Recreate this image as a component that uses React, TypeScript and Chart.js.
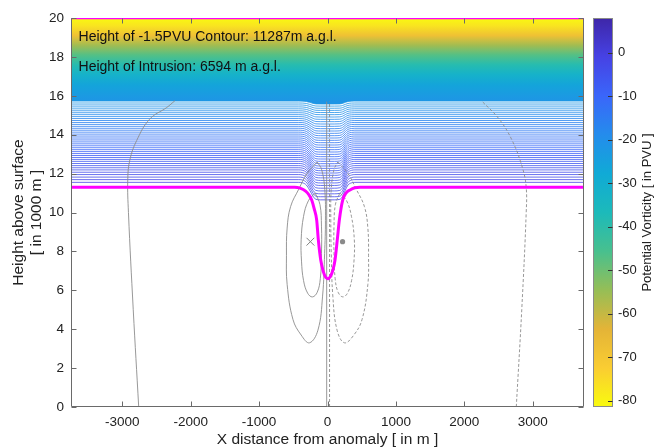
import React, { useEffect, useRef } from 'react';
import { Chart, registerables } from 'chart.js';

Chart.register(...registerables);

const FONT = '"Liberation Sans", Arial, Helvetica, sans-serif';
const AXIS = '#6a6a6a';
const TEXT = '#222222';

// ---------- axes ----------
const xRange = [-3750, 3750];
const yRange = [0, 20];
const xTicks = [-3000, -2000, -1000, 0, 1000, 2000, 3000];
const yTicks = [0, 2, 4, 6, 8, 10, 12, 14, 16, 18, 20];
const cbRange = [-81.4, 8];
const cbTicks = [0, -10, -20, -30, -40, -50, -60, -70, -80];

const xTitle = 'X distance from anomaly [ in m ]';
const yTitle = ['Height above surface', '[ in 1000 m ]'];
const cbTitle = 'Potential Vorticity [ in PVU ]';
const annotations = ['Height of -1.5PVU Contour: 11287m a.g.l.', 'Height of Intrusion: 6594 m a.g.l.'];

// parula colour map (top of colour bar -> bottom)
const parulaStops = [
  [62, 38, 168],
  [70, 66, 228],
  [58, 102, 250],
  [36, 140, 236],
  [16, 170, 214],
  [28, 186, 186],
  [72, 192, 142],
  [150, 190, 86],
  [228, 180, 55],
  [250, 205, 50],
  [249, 251, 14],
];

// ---------- PV contour lines (far-field height in km, level in PVU, depression over anomaly in km) ----------
const lineHeights = [11.55, 11.69, 11.82, 11.95, 12.07, 12.19, 12.30, 12.41, 12.52, 12.63, 12.73, 12.83, 12.93, 13.03,
  13.13, 13.23, 13.33, 13.43, 13.53, 13.63, 13.73, 13.83, 13.93, 14.03, 14.13, 14.23, 14.33, 14.43, 14.53, 14.63,
  14.73, 14.83, 14.93, 15.03, 15.13, 15.23, 15.33, 15.43, 15.53, 15.63, 15.73];
const lineLevels = [-2, -2.5, -3, -3.5, -4, -4.5, -5, -5.5, -6, -6.5, -7, -7.5, -8, -8.5, -9, -9.5, -10, -10.5, -11,
  -11.5, -12, -12.5, -13, -13.5, -14, -14.5, -15, -15.5, -16, -16.5, -17, -17.5, -18, -18.5, -19, -19.5, -20, -20.5,
  -21, -21.5, -22];
const lineDips = [0.90, 0.88, 0.86, 0.84, 0.82, 0.80, 0.78, 0.76, 0.74, 0.72, 0.70, 0.68, 0.66, 0.64, 0.62, 0.60, 0.58,
  0.56, 0.54, 0.52, 0.50, 0.48, 0.46, 0.44, 0.42, 0.40, 0.38, 0.36, 0.34, 0.32, 0.30, 0.28, 0.26, 0.24, 0.22, 0.20,
  0.19, 0.18, 0.17, 0.16, 0.15];
// horizontal shape of the depression (fraction of full depression)
const dipX = [-3750, -420, -360, -310, -260, -210, -170, -100, 0, 100, 180, 220, 260, 300, 350, 400, 3750];
const dipFrac = [0, 0, 0.03, 0.15, 0.45, 0.8, 0.97, 1, 1, 1, 0.97, 0.8, 0.45, 0.15, 0.03, 0, 0];

// dense contours above ~16 km shown as a continuous band
const gradHeights = [15.7, 16.0, 16.55, 17.1, 17.6, 18.1, 18.6, 19.1, 19.6, 20.0];
const gradLevels = [-21.5, -23, -26, -32, -39, -47, -56, -68, -77, -81];

// -1.5 PVU contour (magenta)
const magentaX = [-3750, -480, -400, -320, -270, -231, -195, -158, -134, -99, -60, -25, 5, 40, 80, 110, 143, 173, 222,
  270, 329, 400, 475, 3750];
const magentaY = [11.3, 11.3, 11.25, 11.1, 10.9, 10.64, 10.2, 9.61, 8.59, 7.56, 6.95, 6.66, 6.6, 6.7, 7.05, 7.56, 8.59,
  9.61, 10.64, 11.0, 11.16, 11.27, 11.3, 11.3];
const topContourX = [-3750, 3750];
const topContourY = [20, 20];

// grey contours (solid = positive, dashed = negative)
const outerSolid = [[-150, 12.6], [-300, 12.0], [-420, 11.2], [-540, 10.3], [-590, 9.2], [-600, 7.8], [-590, 6.3],
  [-505, 4.5], [-385, 3.7], [-263, 3.3], [-140, 3.95], [-72, 5.7], [-42, 7.9], [-30, 9.6], [-40, 11.2], [-85, 12.2],
  [-150, 12.6]];
const innerSolid = [[-180, 11.0], [-280, 10.6], [-350, 9.8], [-385, 8.6], [-380, 7.5], [-350, 6.5], [-290, 5.85],
  [-220, 5.66], [-150, 5.9], [-105, 6.6], [-88, 7.9], [-88, 9.3], [-110, 10.4], [-180, 11.0]];
const outerDashed = [[150, 12.6], [300, 12.0], [420, 11.2], [540, 10.3], [590, 9.2], [600, 7.8], [590, 6.3],
  [505, 4.5], [385, 3.7], [248, 3.3], [140, 3.95], [78, 5.7], [55, 7.9], [48, 9.6], [55, 11.2], [95, 12.2],
  [150, 12.6]];
const innerDashed = [[180, 11.0], [280, 10.6], [350, 9.8], [392, 8.6], [387, 7.5], [352, 6.5], [292, 5.85],
  [224, 5.66], [155, 5.9], [112, 6.6], [95, 7.9], [95, 9.3], [115, 10.4], [180, 11.0]];
const farSolid = [[-2760, 0], [-2840, 5], [-2910, 10], [-2920, 11.7], [-2890, 12.7], [-2790, 13.7], [-2600, 14.8],
  [-2350, 15.4], [-2230, 15.75]];
const farDashed = [[2760, 0], [2840, 5], [2905, 10], [2905, 11.3], [2850, 12.3], [2700, 13.7], [2510, 14.8],
  [2250, 15.75]];
const axisSolid = [[-12, 0], [-12, 15.7]];
const axisDashed = [[30, 0], [30, 15.7]];

// markers
const crossMarker = [[-250, 8.5]];
const dotMarker = [[220, 8.5]];

// ---------- helpers ----------
function parula(t: number): string {
  const tt = Math.min(1, Math.max(0, t)) * (parulaStops.length - 1);
  const i = Math.min(parulaStops.length - 2, Math.floor(tt));
  const f = tt - i;
  const a = parulaStops[i], b = parulaStops[i + 1];
  const c = a.map((v, k) => Math.round(v + (b[k] - v) * f));
  return `rgb(${c[0]},${c[1]},${c[2]})`;
}
function pvColor(v: number): string {
  return parula((cbRange[1] - v) / (cbRange[1] - cbRange[0]));
}
const pairs = (p: number[][]) => p.map(([x, y]) => ({ x, y }));
const xy = (xs: number[], ys: number[]) => xs.map((x, i) => ({ x, y: ys[i] }));
const linePoints = (i: number) => dipX.map((x, j) => ({ x, y: lineHeights[i] - lineDips[i] * dipFrac[j] }));

function fillGradient(c: any) {
  const chart = c.chart;
  const ys = chart.scales && chart.scales.y;
  if (!ys || !chart.chartArea) return pvColor(gradLevels[0]);
  const n = gradHeights.length;
  const y0 = ys.getPixelForValue(gradHeights[0]);
  const y1 = ys.getPixelForValue(gradHeights[n - 1]);
  const g = chart.ctx.createLinearGradient(0, y0, 0, y1);
  const span = gradHeights[n - 1] - gradHeights[0];
  gradHeights.forEach((h, i) => g.addColorStop((h - gradHeights[0]) / span, pvColor(gradLevels[i])));
  return g;
}

function cbGradient(c: any) {
  const chart = c.chart;
  const ys = chart.scales && chart.scales.y;
  if (!ys || !chart.chartArea) return pvColor(-40);
  const g = chart.ctx.createLinearGradient(0, ys.getPixelForValue(cbRange[1]), 0, ys.getPixelForValue(cbRange[0]));
  parulaStops.forEach((s, i) => g.addColorStop(i / (parulaStops.length - 1), `rgb(${s[0]},${s[1]},${s[2]})`));
  return g;
}

const mainDecor = {
  id: 'mainDecor',
  beforeDatasetsDraw(chart: any) {
    const { ctx, chartArea: a } = chart;
    ctx.save();
    ctx.strokeStyle = AXIS;
    ctx.lineWidth = 1;
    ctx.beginPath();
    ctx.moveTo(a.left, Math.round(a.top) + 0.5);
    ctx.lineTo(a.right, Math.round(a.top) + 0.5);
    ctx.stroke();
    ctx.restore();
  },
  afterDatasetsDraw(chart: any) {
    const { ctx, chartArea: a, scales } = chart;
    const x = scales.x, y = scales.y;
    const L = Math.round(a.left) + 0.5, R = Math.round(a.right) - 0.5, B = Math.round(a.bottom) - 0.5, T = Math.round(a.top) + 0.5;
    ctx.save();
    ctx.strokeStyle = AXIS;
    ctx.lineWidth = 1;
    ctx.beginPath();
    ctx.moveTo(L, T);
    ctx.lineTo(L, B);
    ctx.lineTo(R, B);
    ctx.lineTo(R, T);
    ctx.stroke();
    ctx.beginPath();
    xTicks.forEach((v) => {
      const p = Math.round(x.getPixelForValue(v)) + 0.5;
      ctx.moveTo(p, B); ctx.lineTo(p, B - 5);
      ctx.moveTo(p, T); ctx.lineTo(p, T + 5);
    });
    yTicks.forEach((v) => {
      const p = Math.round(y.getPixelForValue(v)) + 0.5;
      ctx.moveTo(L, p); ctx.lineTo(L + 5, p);
      ctx.moveTo(R, p); ctx.lineTo(R - 5, p);
    });
    ctx.stroke();
    ctx.fillStyle = '#111';
    ctx.font = `14px ${FONT}`;
    ctx.textAlign = 'left';
    ctx.textBaseline = 'middle';
    ctx.fillText(annotations[0], x.getPixelForValue(-3640), y.getPixelForValue(19.0));
    ctx.fillText(annotations[1], x.getPixelForValue(-3640), y.getPixelForValue(17.48));
    ctx.restore();
  },
};

const cbDecor = {
  id: 'cbDecor',
  afterDatasetsDraw(chart: any) {
    const { ctx, chartArea: a, scales } = chart;
    const y = scales.y;
    ctx.save();
    ctx.strokeStyle = '#8a8a8a';
    ctx.lineWidth = 1;
    ctx.strokeRect(Math.round(a.left) + 0.5, Math.round(a.top) + 0.5, Math.round(a.width) - 1, Math.round(a.height) - 1);
    ctx.strokeStyle = '#333';
    ctx.beginPath();
    cbTicks.forEach((v) => {
      const p = Math.round(y.getPixelForValue(v)) + 0.5;
      ctx.moveTo(a.right - 0.5, p);
      ctx.lineTo(a.right - 5, p);
    });
    ctx.stroke();
    ctx.fillStyle = TEXT;
    ctx.font = `13px ${FONT}`;
    ctx.textAlign = 'center';
    ctx.textBaseline = 'middle';
    ctx.translate(a.right + 34, (a.top + a.bottom) / 2);
    ctx.rotate(-Math.PI / 2);
    ctx.fillText(cbTitle, 0, 0);
    ctx.restore();
  },
};

const plainLabel = (v: any) => String(v);

function mainConfig(): any {
  const datasets: any[] = [];
  const topIdx = lineHeights.length - 1;
  datasets.push({
    data: linePoints(topIdx), showLine: true, fill: 'end', backgroundColor: fillGradient,
    borderWidth: 0, borderColor: 'rgba(0,0,0,0)', pointRadius: 0, cubicInterpolationMode: 'monotone', order: 100,
  });
  lineHeights.forEach((_, i) => {
    datasets.push({
      data: linePoints(i), showLine: true, fill: false, borderColor: pvColor(lineLevels[i]), borderWidth: 0.8,
      pointRadius: 0, cubicInterpolationMode: 'monotone', order: 50,
    });
  });
  const grey = (p: number[][], dashed: boolean, tension: number) => ({
    data: pairs(p), showLine: true, fill: false, borderColor: '#8c8c8c', borderWidth: 0.9,
    borderDash: dashed ? [3, 2] : [], pointRadius: 0, tension, order: 20,
  });
  datasets.push(grey(outerSolid, false, 0.4));
  datasets.push(grey(innerSolid, false, 0.4));
  datasets.push(grey(outerDashed, true, 0.4));
  datasets.push(grey(innerDashed, true, 0.4));
  datasets.push(grey(farSolid, false, 0.4));
  datasets.push(grey(farDashed, true, 0.4));
  datasets.push(grey(axisSolid, false, 0));
  datasets.push(grey(axisDashed, true, 0));
  datasets.push({
    data: xy(magentaX, magentaY), showLine: true, fill: false, borderColor: '#ff00ff', borderWidth: 3,
    pointRadius: 0, cubicInterpolationMode: 'monotone', order: 5,
  });
  datasets.push({
    data: xy(topContourX, topContourY), showLine: true, fill: false, borderColor: '#ff00ff', borderWidth: 2.5,
    pointRadius: 0, order: 5,
  });
  datasets.push({
    data: pairs(crossMarker), showLine: false, pointStyle: 'crossRot', pointRadius: 5.5, borderColor: '#808080',
    borderWidth: 1, backgroundColor: '#808080', order: 1,
  });
  datasets.push({
    data: pairs(dotMarker), showLine: false, pointStyle: 'circle', pointRadius: 2.6, borderWidth: 0,
    backgroundColor: '#8a8a8a', order: 1,
  });

  return {
    type: 'scatter',
    data: { datasets },
    options: {
      animation: false,
      responsive: false,
      events: [],
      layout: { padding: { left: 0, right: 71, top: 18, bottom: 0 } },
      plugins: { legend: { display: false }, tooltip: { enabled: false } },
      scales: {
        x: {
          type: 'linear', min: xRange[0], max: xRange[1],
          afterBuildTicks: (s: any) => { s.ticks = xTicks.map((v) => ({ value: v })); },
          afterFit: (s: any) => { s.height = 40; },
          grid: { display: false, drawTicks: false },
          border: { display: false },
          ticks: { padding: 7, color: TEXT, font: { family: FONT, size: 13.5 }, maxRotation: 0, callback: plainLabel },
          title: { display: true, text: xTitle, color: TEXT, font: { family: FONT, size: 15.5, lineHeight: 1 }, padding: { top: 0, bottom: 0 } },
        },
        y: {
          type: 'linear', min: yRange[0], max: yRange[1],
          afterBuildTicks: (s: any) => { s.ticks = yTicks.map((v) => ({ value: v })); },
          afterFit: (s: any) => { s.width = 71; },
          grid: { display: false, drawTicks: false },
          border: { display: false },
          ticks: { padding: 7, color: TEXT, font: { family: FONT, size: 13.5 }, callback: plainLabel },
          title: { display: true, text: yTitle, color: TEXT, font: { family: FONT, size: 15.5, lineHeight: 18 / 15.5 }, padding: { top: 10, bottom: 0 } },
        },
      },
    },
    plugins: [mainDecor],
  };
}

function cbConfig(): any {
  return {
    type: 'bar',
    data: {
      labels: [''],
      datasets: [{ data: [[cbRange[0], cbRange[1]]], backgroundColor: cbGradient, borderWidth: 0, barPercentage: 1, categoryPercentage: 1 }],
    },
    options: {
      animation: false,
      responsive: false,
      events: [],
      layout: { padding: { left: 0, right: 0, top: 18, bottom: 40 } },
      plugins: { legend: { display: false }, tooltip: { enabled: false } },
      scales: {
        x: { display: false },
        y: {
          position: 'right', min: cbRange[0], max: cbRange[1],
          afterBuildTicks: (s: any) => { s.ticks = cbTicks.map((v) => ({ value: v })); },
          afterFit: (s: any) => { s.width = 42; },
          grid: { display: false, drawTicks: false },
          border: { display: false },
          ticks: { padding: 5, color: TEXT, font: { family: FONT, size: 13 }, callback: plainLabel },
        },
      },
    },
    plugins: [cbDecor],
  };
}

export default function App() {
  const mainRef = useRef<HTMLCanvasElement>(null);
  const cbRef = useRef<HTMLCanvasElement>(null);
  useEffect(() => {
    const main = new Chart(mainRef.current as HTMLCanvasElement, mainConfig());
    const cb = new Chart(cbRef.current as HTMLCanvasElement, cbConfig());
    return () => {
      main.destroy();
      cb.destroy();
    };
  }, []);
  return (
    <div style={{ position: 'fixed', left: 0, top: 0, width: 655, height: 447, background: '#fff', overflow: 'hidden' }}>
      <canvas ref={mainRef} width={655} height={447} style={{ position: 'absolute', left: 0, top: 0, width: 655, height: 447 }} />
      <canvas ref={cbRef} width={62} height={447} style={{ position: 'absolute', left: 593, top: 0, width: 62, height: 447 }} />
    </div>
  );
}
